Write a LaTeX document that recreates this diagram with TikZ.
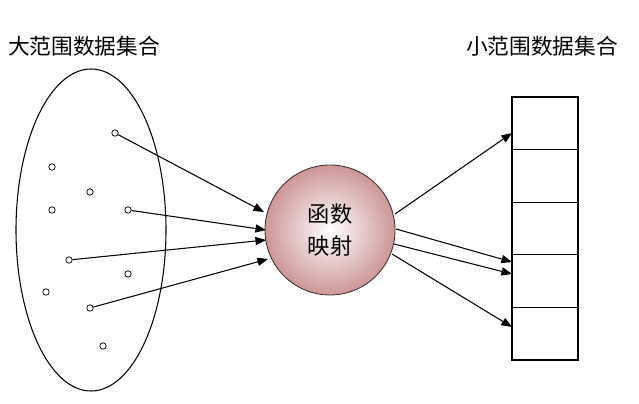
\documentclass[tikz,border=0pt]{standalone}
\usepackage{fontspec}
\newfontfamily\cjk{Noto Sans CJK SC}
\usetikzlibrary{arrows.meta,shapes.geometric}
\definecolor{pinkish}{RGB}{205,150,150}
\begin{document}
\begin{tikzpicture}[x=0.03cm,y=-0.03cm,
  dot/.style={circle,draw,inner sep=0pt,minimum size=5.5pt,fill=white,line width=0.6pt},
  arr/.style={-{Triangle[length=9pt,width=7pt]},line width=0.9pt},
  cell/.style={draw,line width=0.9pt,minimum width=66*0.03cm,minimum height=52.6*0.03cm,inner sep=0pt},
  lbl/.style={font=\cjk\fontsize{18.5}{22}\selectfont,inner sep=0pt}]
\useasboundingbox (0,0) rectangle (639,404);
\node[lbl,anchor=west] (t1) at (8,46) {大范围数据集合};
\node[lbl,anchor=west] (t2) at (466,46) {小范围数据集合};
\node[draw,ellipse,line width=0.9pt,minimum width=150*0.03cm,minimum height=322*0.03cm,inner sep=0pt] (E) at (91,230) {};
\node[circle,draw=black!70!pinkish,line width=0.7pt,minimum size=130*0.03cm,inner sep=0pt,inner color=white,outer color=pinkish,
  font=\cjk\fontsize{19}{27}\selectfont,align=center] (F) at (330,230) {函数\\映射};
\foreach \i/\x/\y in {1/115/133,2/52/167,3/90/192,4/52/210,5/128/210,6/69/260,7/128/274,8/46/292,9/90/308,10/103/346}
  \node[dot] (d\i) at (\x,\y) {};
\foreach \j in {0,...,4}
  \node[cell] (c\j) at (545,{97+26.3+52.6*\j}) {};
\coordinate (i1) at (264,212);
\coordinate (i2) at (266,230);
\coordinate (i3) at (266,240);
\coordinate (i4) at (268,259);
\draw[arr] (d1) -- (i1);
\draw[arr] (d5) -- (i2);
\draw[arr] (d6) -- (i3);
\draw[arr] (d9) -- (i4);
\coordinate (o1) at (395,214);
\coordinate (o2) at (396,229);
\coordinate (o3) at (394,244);
\coordinate (o4) at (392,254);
\coordinate (e1) at (512,133);
\coordinate (e2) at (512,262);
\coordinate (e3) at (512,274);
\coordinate (e4) at (512,327);
\draw[arr] (o1) -- (e1);
\draw[arr] (o2) -- (e2);
\draw[arr] (o3) -- (e3);
\draw[arr] (o4) -- (e4);
\end{tikzpicture}
\end{document}
